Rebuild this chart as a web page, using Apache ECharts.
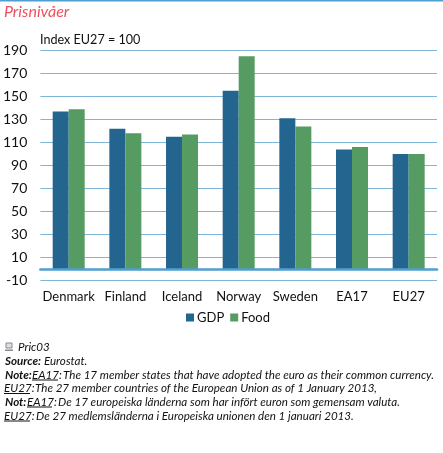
<!DOCTYPE html>
<html><head><meta charset="utf-8">
<style>html,body{margin:0;padding:0;background:#fff}#c{width:443px;height:453px}</style>
<script src="https://cdn.jsdelivr.net/npm/echarts@6/dist/echarts.min.js"></script></head>
<body><div id="c"></div>
<script>
const categories=["Denmark","Finland","Iceland","Norway","Sweden","EA17","EU27"];
const gdp=[137,122,115,155,131,104,100];
const food=[139,118,117,185,124,106,100];
const yTicks=[-10,10,30,50,70,90,110,130,150,170,190];
const F="Lato";
const chart=echarts.init(document.getElementById('c'),null,{renderer:'canvas'});
const foot=(x,y,text,weight)=>({type:'text',x,y,style:{text,font:`italic ${weight||400} 11.6px ${F}`,fill:'#111',textVerticalAlign:'middle'}});
const ul=(x1,x2,y)=>({type:'line',shape:{x1,y1:y,x2,y2:y},style:{stroke:'#111',lineWidth:1}});
chart.setOption({
 animation:false,
 grid:{left:40,right:6,top:50.5,height:230,containLabel:false},
 legend:{data:['GDP','Food'],left:186,top:311,padding:0,itemWidth:8,itemHeight:8,itemGap:6,icon:'rect',
   textStyle:{fontFamily:F,fontSize:13,color:'#111',padding:[0,0,0,-2]}},
 xAxis:{type:'category',data:categories,z:5,
   axisLine:{onZero:true,lineStyle:{color:'#4f9fd0',width:2.5}},axisTick:{show:false},
   axisLabel:{margin:10,interval:0,fontFamily:F,fontSize:13,color:'#111'}},
 yAxis:{type:'value',min:-10,max:190,interval:20,
   axisLine:{show:false},axisTick:{show:false},
   axisLabel:{margin:13,fontFamily:F,fontSize:14,color:'#111',customValues:yTicks},
   splitLine:{lineStyle:{color:'#80b6d9',width:1}}},
 series:[
  {name:'GDP',type:'bar',data:gdp,barWidth:16,barGap:'0%',itemStyle:{color:'#24658f'}},
  {name:'Food',type:'bar',data:food,barWidth:16,itemStyle:{color:'#569b62'}}
 ],
 graphic:[
  {type:'rect',shape:{x:0,y:0,width:443,height:1.5},style:{fill:'#4f9fd0'}},
  {type:'text',x:4,y:12,style:{text:'Prisnivåer',font:`italic 400 16px ${F}`,fill:'#f0505f',textVerticalAlign:'middle'}},
  {type:'text',x:40,y:40,style:{text:'Index EU27 = 100',font:`400 12.6px ${F}`,fill:'#111',textVerticalAlign:'middle'}},
  {type:'rect',shape:{x:6,y:343,width:6,height:5},style:{fill:'#dde',stroke:'#888',lineWidth:1}},
  {type:'rect',shape:{x:5,y:349.5,width:8,height:1.5},style:{fill:'#888'}},
  foot(18,347,'Pric03'),
  foot(5,361,'Source:',700),foot(44,361,'Eurostat.'),
  foot(5,375,'Note:',700),foot(32,375,'EA17:'),foot(63,375,'The 17 member states that have adopted the euro as their common currency.'),
  foot(4,388,'EU27:'),foot(35,388,'The 27 member countries of the European Union as of 1 January 2013,'),
  foot(5,402,'Not:',700),foot(27,402,'EA17:'),foot(58,402,'De 17 europeiska länderna som har infört euron som gemensam valuta.'),
  foot(4,416,'EU27:'),foot(36,416,'De 27 medlemsländerna i Europeiska unionen den 1 januari 2013.'),
  ul(32,58,380),ul(4,30,393.5),ul(27,52,407),ul(4,30,421)
 ]
});
</script></body></html>
